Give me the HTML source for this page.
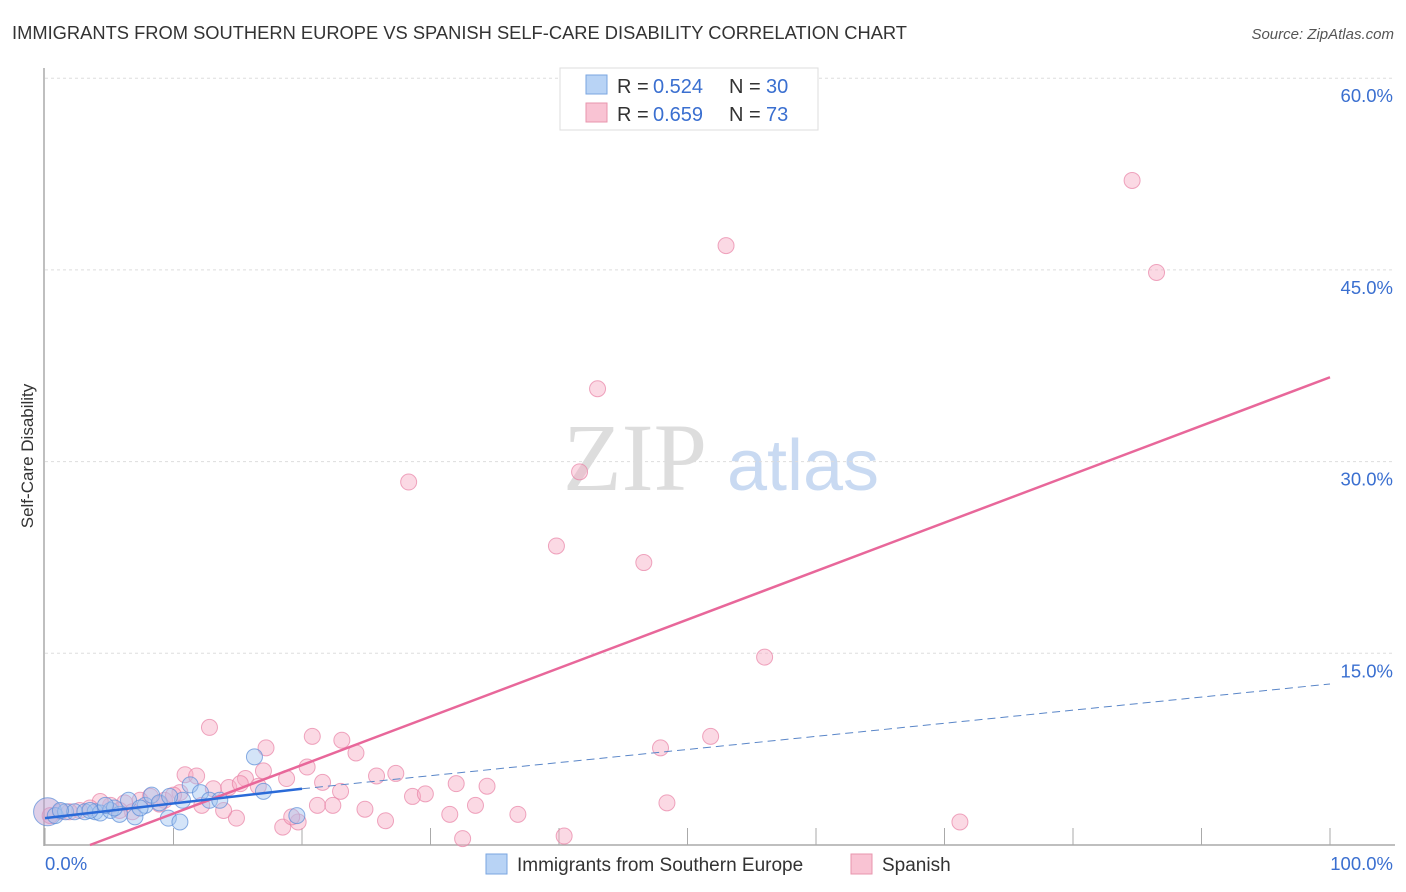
<!DOCTYPE html>
<html><head><meta charset="utf-8"><style>
body{margin:0;background:#fff;font-family:"Liberation Sans",sans-serif;}
svg{display:block}
</style></head><body>
<svg id="chart" width="1406" height="892" xmlns="http://www.w3.org/2000/svg">
<text x="12" y="39" font-size="18" fill="#333" textLength="895" lengthAdjust="spacingAndGlyphs">IMMIGRANTS FROM SOUTHERN EUROPE VS SPANISH SELF-CARE DISABILITY CORRELATION CHART</text>
<text x="1394" y="39" font-size="15" fill="#555" font-style="italic" text-anchor="end">Source: ZipAtlas.com</text>
<text transform="translate(33,456) rotate(-90)" font-size="17" fill="#333" text-anchor="middle">Self-Care Disability</text>
<g>
<text x="635" y="490" font-size="96" fill="#ddd" font-family="Liberation Serif,serif" text-anchor="middle">ZIP</text>
<text x="803" y="490" font-size="72" fill="#c9daf2" text-anchor="middle">atlas</text>
</g>
<g id="grid"></g><g id="axes"></g><g id="pts"></g><g id="lines"></g>
<g>
<rect x="560" y="68" width="258" height="62" fill="#fff" stroke="#ddd"/>
<rect x="586" y="75" width="21" height="19" fill="#b8d3f5" stroke="#7aa6e0"/>
<rect x="586" y="103" width="21" height="19" fill="#f9c3d3" stroke="#e896ae"/>
<text x="617" y="93" font-size="20" fill="#333">R = </text><text x="653" y="93" font-size="20" fill="#3a6fd0">0.524</text>
<text x="729" y="93" font-size="20" fill="#333">N = </text><text x="766" y="93" font-size="20" fill="#3a6fd0">30</text>
<text x="617" y="121" font-size="20" fill="#333">R = </text><text x="653" y="121" font-size="20" fill="#3a6fd0">0.659</text>
<text x="729" y="121" font-size="20" fill="#333">N = </text><text x="766" y="121" font-size="20" fill="#3a6fd0">73</text>
</g>
<g>
<rect x="486" y="854" width="21" height="20" fill="#b8d3f5" stroke="#7aa6e0"/>
<text x="517" y="871" font-size="19" fill="#333">Immigrants from Southern Europe</text>
<rect x="851" y="854" width="21" height="20" fill="#f9c3d3" stroke="#e896ae"/>
<text x="882" y="871" font-size="19" fill="#333">Spanish</text>
</g>
</svg>
<script>
const yTicks=[15,30,45,60];
const yTickLabels=["15.0%","30.0%","45.0%","60.0%"];
const xTicks=[0,10,20,30,40,50,60,70,80,90,100];
const pinkX=[84.6,53.0,86.5,43.0,28.3,41.6,39.8,46.6,56.0,12.8,20.8,23.1,17.2,24.2,47.9,51.8,10.9,11.8,15.6,17.0,20.4,18.8,21.6,25.8,27.3,23.0,32.0,34.4,28.6,29.6,21.2,22.4,24.9,33.5,36.8,48.4,31.5,26.5,18.5,19.7,19.2,14.9,13.9,13.1,12.2,32.5,40.4,71.2,10.5,9.3,8.2,7.4,6.2,5.1,4.3,3.5,2.7,1.9,1.2,0.4,6.8,8.9,5.8,14.3,10.0,15.2,16.6];
const pinkY=[52.0,46.9,44.8,35.7,28.4,29.2,23.4,22.1,14.7,9.2,8.5,8.2,7.6,7.2,7.6,8.5,5.5,5.4,5.2,5.8,6.1,5.2,4.9,5.4,5.6,4.2,4.8,4.6,3.8,4.0,3.1,3.1,2.8,3.1,2.4,3.3,2.4,1.9,1.4,1.8,2.2,2.1,2.7,4.4,3.1,0.5,0.7,1.8,4.1,3.5,3.8,3.5,3.3,3.1,3.4,2.9,2.7,2.6,2.6,2.3,2.6,3.2,2.7,4.5,3.9,4.8,4.6];
const blueX=[16.3,17.0,19.6,0.2,0.8,1.6,2.3,3.1,3.9,4.3,5.1,5.8,6.5,7.0,7.8,8.3,8.9,9.6,10.5,10.7,11.3,12.1,12.8,13.6,5.4,7.4,9.7,4.7,3.5,1.2];
const blueY=[6.9,4.2,2.3,2.6,2.3,2.6,2.6,2.6,2.6,2.5,2.7,2.4,3.5,2.2,3.1,3.9,3.3,2.1,1.8,3.5,4.7,4.1,3.5,3.5,2.9,2.9,3.8,3.1,2.7,2.7];
const pinkFit=[3.5,0,100,36.6];
const blueFit=[0,2.1,20,4.4,100,12.6];
const NS="http://www.w3.org/2000/svg";
const X=v=>45+v*12.85, Y=v=>845-v*12.78;
function mk(t,a,p){const e=document.createElementNS(NS,t);for(const k in a)e.setAttribute(k,a[k]);p.appendChild(e);return e;}
const grid=document.getElementById('grid'),axes=document.getElementById('axes'),pts=document.getElementById('pts'),lines=document.getElementById('lines');
yTicks.forEach((v,i)=>{
 const l=mk('line',{x1:45,x2:1395,y1:Y(v),y2:Y(v),stroke:'#ddd','stroke-dasharray':'3,3'},grid);
 
 
 const t=mk('text',{x:1393,y:Y(v)+24,'font-size':18.5,fill:'#3a6fd0','text-anchor':'end'},axes);
 t.textContent=yTickLabels[i];
 
 
});
mk('line',{x1:44,x2:44,y1:68,y2:846,stroke:'#aaa','stroke-width':1.5},axes);
mk('line',{x1:44,x2:1395,y1:845,y2:845,stroke:'#aaa','stroke-width':1.5},axes);
xTicks.forEach(v=>{const l=mk('line',{x1:X(v),x2:X(v),y1:845,y2:828,stroke:'#aaa'},axes);
 
 });
let t=mk('text',{x:45,y:870,'font-size':18.5,fill:'#3a6fd0'},axes);t.textContent='0.0%';

t=mk('text',{x:1393,y:870,'font-size':18.5,fill:'#3a6fd0','text-anchor':'end'},axes);t.textContent='100.0%';

pinkX.forEach((x,i)=>{const c=mk('circle',{cx:X(x),cy:Y(pinkY[i]),r:8,fill:'rgba(246,170,195,0.45)',stroke:'rgba(232,130,165,0.7)'},pts);
 
 });
blueX.forEach((x,i)=>{const c=mk('circle',{cx:X(x),cy:Y(blueY[i]),r:i==3?14:8,fill:i==3?'rgba(190,160,210,0.5)':'rgba(160,196,240,0.45)',stroke:'rgba(90,140,215,0.7)'},pts);
 
 });
let l=mk('line',{x1:X(pinkFit[0]),y1:Y(pinkFit[1]),x2:X(pinkFit[2]),y2:Y(pinkFit[3]),stroke:'#e8679a','stroke-width':2.5},lines);

l=mk('line',{x1:X(blueFit[2]),y1:Y(blueFit[3]),x2:X(blueFit[4]),y2:Y(blueFit[5]),stroke:'#5a86c8','stroke-width':1,'stroke-dasharray':'8,5'},lines);

l=mk('line',{x1:X(blueFit[0]),y1:Y(blueFit[1]),x2:X(blueFit[2]),y2:Y(blueFit[3]),stroke:'#2a6ad8','stroke-width':2.5},lines);

</script>
</body></html>
